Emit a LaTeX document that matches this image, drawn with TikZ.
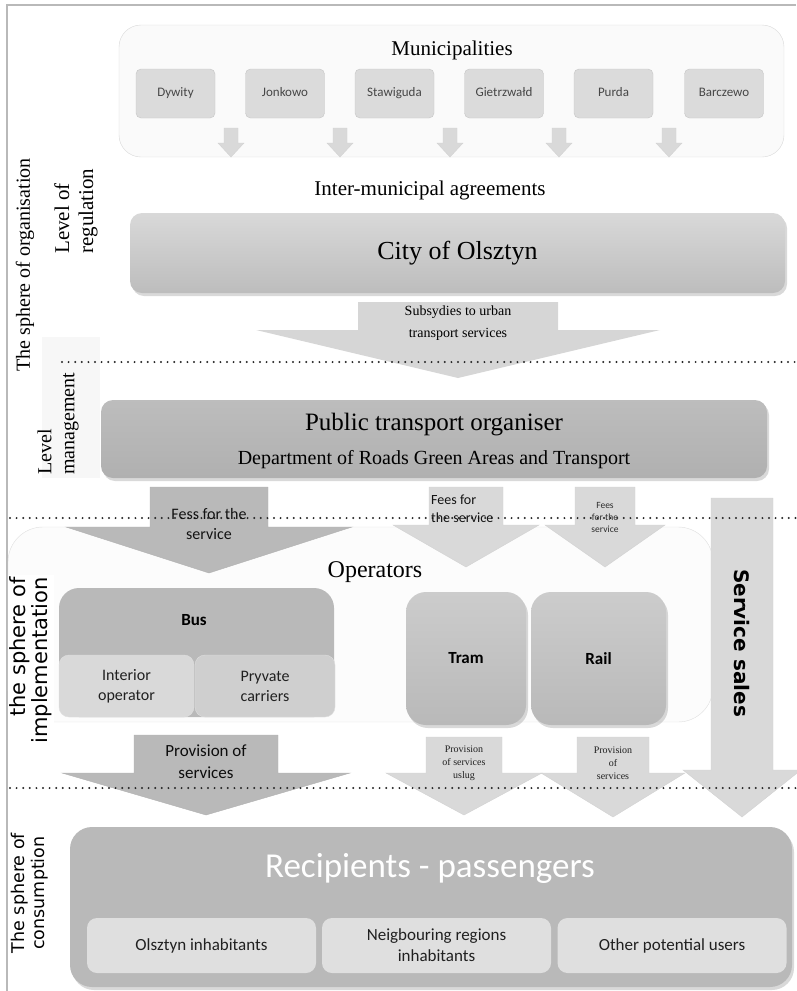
\documentclass[tikz,border=0pt]{standalone}
\usepackage{fontspec}
\setmainfont{Liberation Serif}
\newfontfamily\calib{Carlito}
\newfontfamily\dejav{DejaVu Sans}
\usetikzlibrary{shadows}

% block arrow pointing down: style, centre x, shaft half width, head half width, top, head base, tip
\newcommand{\downblock}[7]{%
  \path[#1] ({#2-#3},#5) -- ({#2+#3},#5) -- ({#2+#3},#6) -- ({#2+#4},#6)
    -- (#2,#7) -- ({#2-#4},#6) -- ({#2-#3},#6) -- cycle;}

\tikzset{
  frame/.style={draw=gray!55, line width=1.2pt},
  dotline/.style={draw=gray!30!black, line width=2.2pt, line cap=round, dash pattern=on 0pt off 6.6pt},
  group/.style={draw=gray!30, fill=gray!4, rounded corners=#1},
  munibox/.style={draw=gray!45, fill=gray!28, rounded corners=5pt, minimum width=79pt,
    minimum height=49pt, text height=9pt, text depth=3pt,
    font=\calib\fontsize{13}{15}\selectfont, text=gray!55!black},
  mainbox/.style={rounded corners=12pt, drop shadow={opacity=0.3, shadow xshift=2pt, shadow yshift=-3pt}},
  lightarrow/.style={fill=gray!30, draw=gray!35},
  darkarrow/.style={fill=gray!55, draw=gray!60},
  smallsans/.style 2 args={font=\calib\fontsize{#1}{#2}\selectfont},
  sidelabel/.style={rotate=90, align=center},
}

\begin{document}
\begin{tikzpicture}[x=1pt, y=-1pt, inner sep=0pt]
\useasboundingbox (0,0) rectangle (796,991);

% background of the management label
\fill[gray!6] (42,337) rectangle (100,478);
\draw[frame] (7,991) -- (7,5) -- (796,5);

% municipalities
\node[group=22pt, minimum width=665pt, minimum height=132pt] (munis) at (451.5,91) {};
\node[font=\fontsize{21}{24}\selectfont] (munititle) at (452,50) {Municipalities};
\foreach \name/\cx [count=\i] in {Dywity/175.5, Jonkowo/285, Stawiguda/394.5,
    Gietrzwałd/504, Purda/613.5, Barczewo/724}
  \node[munibox] (muni\i) at (\cx,93.5) {\name};
\foreach \cx in {231,340,450,559,669}
  {\downblock{lightarrow}{\cx}{7}{13}{128}{143}{157}}

\node[font=\fontsize{21}{24}\selectfont] (agree) at (430,190) {Inter-municipal agreements};

% regulation level
\node[mainbox, top color=gray!30, bottom color=gray!52, minimum width=655pt, minimum height=80pt,
  font=\fontsize{26}{30}\selectfont] (city) at (457.5,253) {City of Olsztyn};
\downblock{fill=gray!32}{458}{100}{202}{302}{330}{378}
\node[align=center, font=\fontsize{14}{22}\selectfont] (subsidy) at (458,323)
  {Subsydies to urban\\transport services};

% management level
\node[mainbox, top color=gray!52, bottom color=gray!62, minimum width=666pt, minimum height=78pt]
  (organiser) at (434,439) {};
\node[font=\fontsize{25}{28}\selectfont] (orgtitle) at (434,425) {Public transport organiser};
\node[font=\fontsize{20}{24}\selectfont] (orgdept) at (434,460)
  {Department of Roads Green Areas and Transport};

% operators
\node[group=35pt, draw=gray!25, fill=gray!2, minimum width=705pt, minimum height=195pt]
  (operators) at (360.5,624.5) {};
\node[font=\fontsize{24}{28}\selectfont] (optitle) at (375,572) {Operators};
\node[fill=gray!55, rounded corners=20pt, minimum width=275pt, minimum height=129pt] (bus) at (196.5,652.5) {};
\node[font=\calib\bfseries\fontsize{17}{20}\selectfont] (bustitle) at (194,620) {Bus};
\node[fill=gray!30, draw=gray!25, rounded corners=10pt, minimum width=135pt, minimum height=62pt,
  align=center, smallsans={16}{20}, text=gray!25!black] (interior) at (126.5,686) {Interior\\operator};
\node[fill=gray!38, draw=gray!25, rounded corners=10pt, minimum width=140pt, minimum height=62pt,
  align=center, smallsans={16}{20}, text=gray!25!black] (private) at (265,686) {Pryvate\\carriers};
\node[mainbox, rounded corners=20pt, top color=gray!40, bottom color=gray!55, minimum width=120pt,
  minimum height=133pt, font=\calib\bfseries\fontsize{17}{20}\selectfont] (tram) at (466,658.5) {Tram};
\node[mainbox, rounded corners=20pt, top color=gray!40, bottom color=gray!55, minimum width=135pt,
  minimum height=133pt, font=\calib\bfseries\fontsize{17}{20}\selectfont] (rail) at (598.5,658.5) {Rail};

% fees and sales
\downblock{darkarrow}{209}{59}{143}{487}{527}{573}
\downblock{lightarrow}{466}{37}{73}{487}{525}{567}
\downblock{lightarrow}{605}{30}{60}{487}{525}{567}
\downblock{lightarrow}{742}{31}{59}{498}{770}{817}

% provision of services
\downblock{darkarrow}{206}{72}{144}{735}{773}{815}
\downblock{lightarrow}{464}{38}{78}{737}{773}{815}
\downblock{lightarrow}{613}{36}{72}{737}{773}{817}

% consumption
\node[mainbox, rounded corners=22pt, fill=gray!55, minimum width=722pt, minimum height=160pt] (recipients) at (431,907) {};
\node[text=white, font=\calib\fontsize{35}{40}\selectfont] (rectitle) at (430,868) {Recipients - passengers};
\foreach \txt/\cx [count=\i] in {Olsztyn inhabitants/201.5, {Neigbouring regions\\inhabitants}/436.5,
    Other potential users/672}
  \node[fill=gray!25, rounded corners=10pt, minimum width=229pt, minimum height=55pt, align=center,
    smallsans={17}{21}, text=gray!25!black] (user\i) at (\cx,945.5) {\txt};

% level borders
\draw[dotline] (62,362) -- (796,362);
\draw[dotline] (10,518) -- (796,518);
\draw[dotline] (10,788) -- (796,788);

% arrow texts
\node[align=center, smallsans={16}{20}, text=gray!15!black] (fees1) at (209,524) {Fess for the\\service};
\node[align=left, anchor=west, smallsans={14}{18}, text=gray!15!black] (fees2) at (431,509) {Fees for\\the service};
\node[align=center, smallsans={9.5}{12}, text=gray!35!black] (fees3) at (605,517) {Fees\\for the\\service};
\node[rotate=-90, font=\dejav\bfseries\fontsize{20}{24}\selectfont] (sales) at (742,643) {Service sales};
\node[align=center, smallsans={17}{22}, text=gray!10!black] (prov1) at (206,761.5) {Provision of\\services};
\node[align=center, font=\fontsize{10}{13}\selectfont, text=gray!25!black] (prov2) at (464,763) {Provision\\of services\\uslug};
\node[align=center, font=\fontsize{10}{13}\selectfont, text=gray!25!black] (prov3) at (613,763) {Provision\\of\\services};

% side labels
\node[sidelabel, font=\fontsize{20}{22}\selectfont] (orglabel) at (25,265) {The sphere of organisation};
\node[rotate=90, align=left, anchor=west, font=\fontsize{21}{24}\selectfont] (reglabel) at (76,254) {Level of\\regulation};
\node[rotate=90, align=left, anchor=west, font=\fontsize{20}{23}\selectfont] (mgmtlabel) at (58,475) {Level\\management};
\node[rotate=90, align=right, anchor=east, fill=white, inner sep=2pt, font=\dejav\fontsize{21}{22}\selectfont]
  (implabel) at (31,575) {the sphere of\\implementation};
\node[sidelabel, font=\dejav\fontsize{17.5}{20}\selectfont] (conslabel) at (30,893) {The sphere of\\consumption};
\end{tikzpicture}
\end{document}
